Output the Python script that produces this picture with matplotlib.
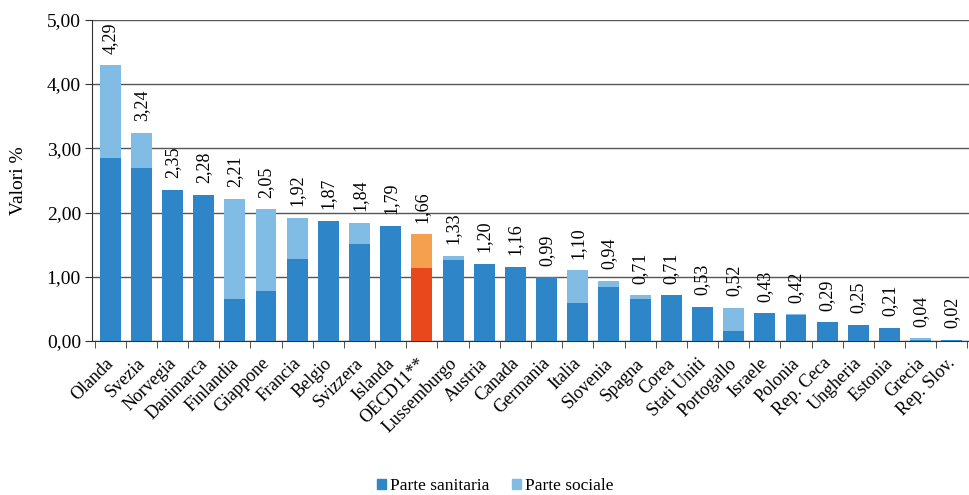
import matplotlib.pyplot as plt
import matplotlib.transforms as mtransforms
import numpy as np

# Dati
paesi = ['Olanda', 'Svezia', 'Norvegia', 'Danimarca', 'Finlandia', 'Giappone',
         'Francia', 'Belgio', 'Svizzera', 'Islanda', 'OECD11**', 'Lussemburgo',
         'Austria', 'Canada', 'Germania', 'Italia', 'Slovenia', 'Spagna', 'Corea',
         'Stati Uniti', 'Portogallo', 'Israele', 'Polonia', 'Rep. Ceca',
         'Ungheria', 'Estonia', 'Grecia', 'Rep. Slov.']
totale = [4.29, 3.24, 2.35, 2.28, 2.21, 2.05, 1.92, 1.87, 1.84, 1.79, 1.66, 1.33,
          1.20, 1.16, 0.99, 1.10, 0.94, 0.71, 0.71, 0.53, 0.52, 0.43, 0.42, 0.29,
          0.25, 0.21, 0.04, 0.02]
sanitaria = [2.85, 2.69, 2.35, 2.28, 0.65, 0.78, 1.28, 1.87, 1.51, 1.79, 1.14, 1.26,
             1.20, 1.16, 0.99, 0.60, 0.84, 0.65, 0.71, 0.53, 0.16, 0.43, 0.40, 0.29,
             0.25, 0.21, 0.02, 0.02]
sociale = [t - s for t, s in zip(totale, sanitaria)]

plt.rcParams['font.family'] = ['Liberation Serif', 'DejaVu Serif']

x = np.arange(len(paesi))
col_san = ['#E8481C' if p == 'OECD11**' else '#2E86C8' for p in paesi]
col_soc = ['#F5A04E' if p == 'OECD11**' else '#80BCE4' for p in paesi]

fig = plt.figure(figsize=(9.69, 4.95), dpi=100)
ax = fig.add_axes([0.095, 0.311, 0.905, 0.649])

ax.bar(x, sanitaria, width=0.67, color=col_san, label='Parte sanitaria', zorder=3)
ax.bar(x, sociale, width=0.67, bottom=sanitaria, color=col_soc, label='Parte sociale', zorder=3)

for i, t in enumerate(totale):
    ax.text(x[i], t + 0.18, f'{t:.2f}'.replace('.', ','), rotation=90,
            ha='center', va='bottom', fontsize=13, zorder=4)

ax.set_ylim(0, 5)
ax.set_xlim(-0.58, len(paesi) - 0.45)
ax.set_yticks(np.arange(0, 5.01, 1))
ax.set_yticklabels([f'{v:.2f}'.replace('.', ',') for v in np.arange(0, 5.01, 1)], fontsize=14)
ax.yaxis.grid(True, color='#555555', linewidth=1.0, zorder=0)
ax.set_axisbelow(True)

ax.set_xticks(x)
ax.set_xticklabels(paesi, rotation=45, ha='right', rotation_mode='anchor', fontsize=13)
ax.tick_params(axis='x', length=0, pad=10)
shift = mtransforms.ScaledTranslation(-5 / 100, 0, fig.dpi_scale_trans)
for lab in ax.get_xticklabels():
    lab.set_transform(lab.get_transform() + shift)
ax.set_xticks(np.arange(-0.5, len(paesi)), minor=True)
ax.tick_params(axis='x', which='minor', length=5, direction='out', color='#333333')
ax.tick_params(axis='y', length=5, direction='out', color='#333333', pad=3)

ax.spines['top'].set_visible(False)
ax.spines['right'].set_visible(False)
ax.spines['left'].set_color('#333333')
ax.spines['bottom'].set_color('#333333')

ax.set_ylabel('Valori %', fontsize=14, labelpad=14)

h = [plt.Rectangle((0, 0), 1, 1, color='#2E86C8'), plt.Rectangle((0, 0), 1, 1, color='#80BCE4')]
l = ['Parte sanitaria', 'Parte sociale']
fig.legend(h, l, loc='center', bbox_to_anchor=(0.511, 0.018), ncol=2, frameon=False,
           fontsize=12.5, handlelength=0.5, handleheight=0.5, handletextpad=0.25,
           columnspacing=1.3, borderpad=0)

fig.savefig('out.png', dpi=100)
